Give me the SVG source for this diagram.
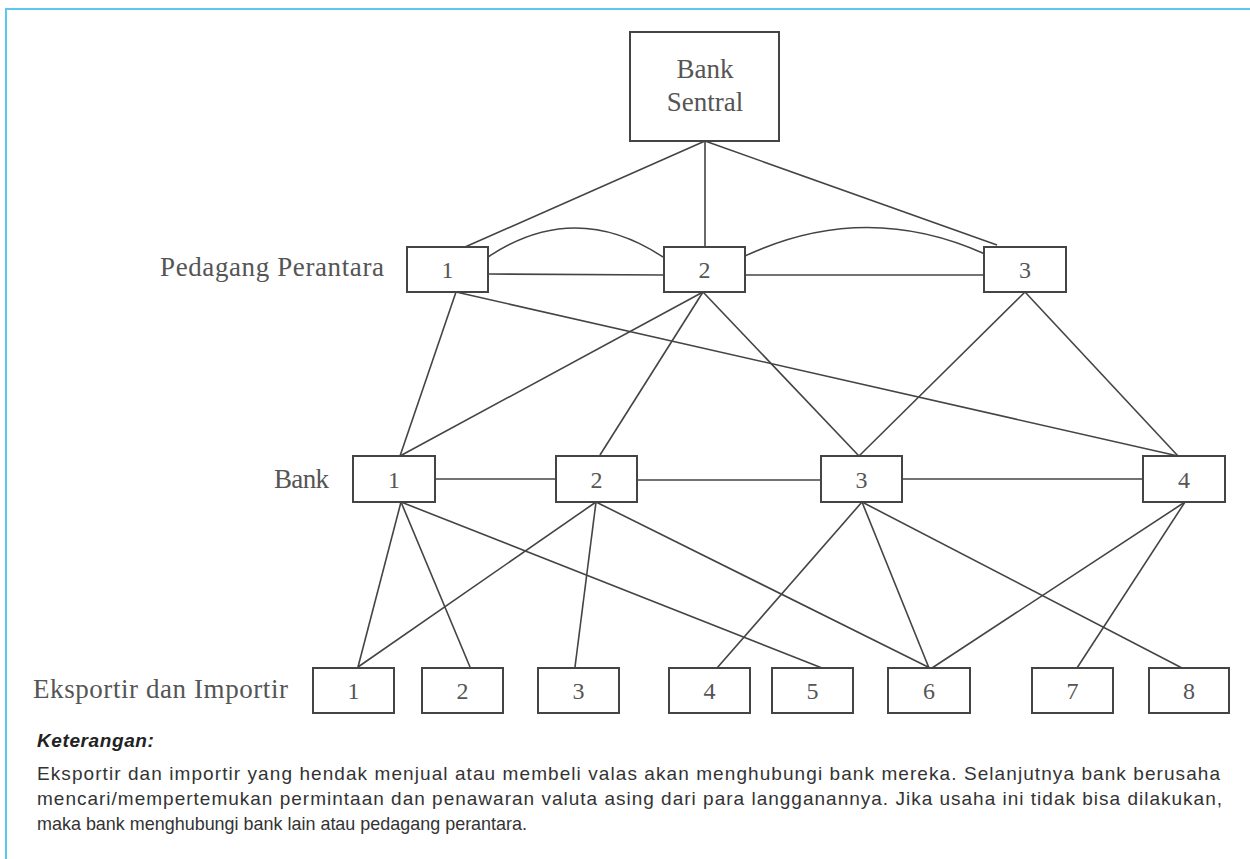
<svg xmlns="http://www.w3.org/2000/svg" width="1250" height="859" viewBox="0 0 1250 859">
<style>
.box{fill:#fff;stroke:#444;stroke-width:2}
.ln{fill:none;stroke:#444;stroke-width:1.6}
.lbl{font-family:"Liberation Serif","DejaVu Serif",serif;font-size:27px;fill:#555}
.num{font-family:"Liberation Serif","DejaVu Serif",serif;font-size:24px;fill:#555;text-anchor:middle}
.ket{font-family:"Liberation Sans",Arial,sans-serif;font-size:19px;font-weight:bold;font-style:italic;fill:#222}
.par{font-family:"Liberation Sans",Arial,sans-serif;font-size:19px;fill:#333}
</style>
<rect width="1250" height="859" fill="#fff"/>
<g id="frame" fill="none" stroke="#5BC8F0" stroke-width="2">
<line x1="5" y1="9" x2="1250" y2="9"/>
<line x1="6" y1="8" x2="6" y2="859"/>
</g>
<g id="connectors" class="ln">
<line x1="705" y1="141" x2="465" y2="247"/>
<line x1="705" y1="141" x2="705" y2="247"/>
<line x1="705" y1="141" x2="997" y2="245"/>
<path d="M488,257 Q575,199 663,257"/>
<path d="M745,256 Q865,200 985,254"/>
<line x1="488" y1="274" x2="664" y2="275"/>
<line x1="745" y1="275" x2="984" y2="275"/>
<line x1="456" y1="292" x2="400" y2="456"/>
<line x1="456" y1="292" x2="1178" y2="456"/>
<line x1="703" y1="292" x2="400" y2="456"/>
<line x1="703" y1="292" x2="600" y2="455"/>
<line x1="703" y1="292" x2="859" y2="456"/>
<line x1="1025" y1="292" x2="859" y2="456"/>
<line x1="1025" y1="292" x2="1178" y2="456"/>
<line x1="435" y1="479" x2="556" y2="479"/>
<line x1="637" y1="480" x2="821" y2="480"/>
<line x1="902" y1="479" x2="1143" y2="479"/>
<line x1="401" y1="502" x2="358" y2="667"/>
<line x1="401" y1="502" x2="470" y2="667"/>
<line x1="401" y1="502" x2="822" y2="668"/>
<line x1="596" y1="502" x2="358" y2="667"/>
<line x1="596" y1="502" x2="575" y2="667"/>
<line x1="596" y1="502" x2="930" y2="668"/>
<line x1="862" y1="502" x2="717" y2="668"/>
<line x1="862" y1="502" x2="929" y2="668"/>
<line x1="862" y1="502" x2="1182" y2="668"/>
<line x1="1185" y1="502" x2="932" y2="668"/>
<line x1="1185" y1="502" x2="1077" y2="668"/>
</g>
<g id="bank-sentral"><rect class="box" x="630" y="32" width="149" height="109"/>
<text class="lbl" x="705" y="78" text-anchor="middle">Bank</text>
<text class="lbl" x="705" y="111" text-anchor="middle">Sentral</text></g>
<g id="label-pp"><text class="lbl" x="160" y="276" textLength="224">Pedagang Perantara</text></g>
<g id="label-bank"><text class="lbl" x="274" y="488" textLength="55">Bank</text></g>
<g id="label-ei"><text class="lbl" x="33" y="698" textLength="255">Eksportir dan Importir</text></g>
<g id="pp1"><rect class="box" x="407" y="247" width="81" height="45"/><text class="num" x="447.5" y="278">1</text></g>
<g id="pp2"><rect class="box" x="664" y="247" width="81" height="45"/><text class="num" x="704.5" y="278">2</text></g>
<g id="pp3"><rect class="box" x="984" y="247" width="82" height="45"/><text class="num" x="1025" y="278">3</text></g>
<g id="bank1"><rect class="box" x="353" y="456" width="82" height="46"/><text class="num" x="394" y="488">1</text></g>
<g id="bank2"><rect class="box" x="556" y="456" width="81" height="46"/><text class="num" x="596.5" y="488">2</text></g>
<g id="bank3"><rect class="box" x="821" y="456" width="81" height="46"/><text class="num" x="861.5" y="488">3</text></g>
<g id="bank4"><rect class="box" x="1143" y="456" width="82" height="46"/><text class="num" x="1184" y="488">4</text></g>
<g id="ei1"><rect class="box" x="313" y="668" width="81" height="45"/><text class="num" x="353.5" y="699">1</text></g>
<g id="ei2"><rect class="box" x="422" y="668" width="81" height="45"/><text class="num" x="462.5" y="699">2</text></g>
<g id="ei3"><rect class="box" x="538" y="668" width="81" height="45"/><text class="num" x="578.5" y="699">3</text></g>
<g id="ei4"><rect class="box" x="669" y="668" width="81" height="45"/><text class="num" x="709.5" y="699">4</text></g>
<g id="ei5"><rect class="box" x="772" y="668" width="81" height="45"/><text class="num" x="812.5" y="699">5</text></g>
<g id="ei6"><rect class="box" x="888" y="668" width="82" height="45"/><text class="num" x="929" y="699">6</text></g>
<g id="ei7"><rect class="box" x="1032" y="668" width="81" height="45"/><text class="num" x="1072.5" y="699">7</text></g>
<g id="ei8"><rect class="box" x="1149" y="668" width="80" height="45"/><text class="num" x="1189" y="699">8</text></g>
<g id="keterangan">
<text class="ket" x="37" y="747" letter-spacing="0.6">Keterangan:</text>
<text class="par" x="37" y="780" textLength="1183">Eksportir dan importir yang hendak menjual atau membeli valas akan menghubungi bank mereka. Selanjutnya bank berusaha</text>
<text class="par" x="37" y="805" textLength="1185">mencari/mempertemukan permintaan dan penawaran valuta asing dari para langganannya. Jika usaha ini tidak bisa dilakukan,</text>
<text class="par" x="37" y="830" textLength="490" lengthAdjust="spacingAndGlyphs">maka bank menghubungi bank lain atau pedagang perantara.</text>
</g>
</svg>
